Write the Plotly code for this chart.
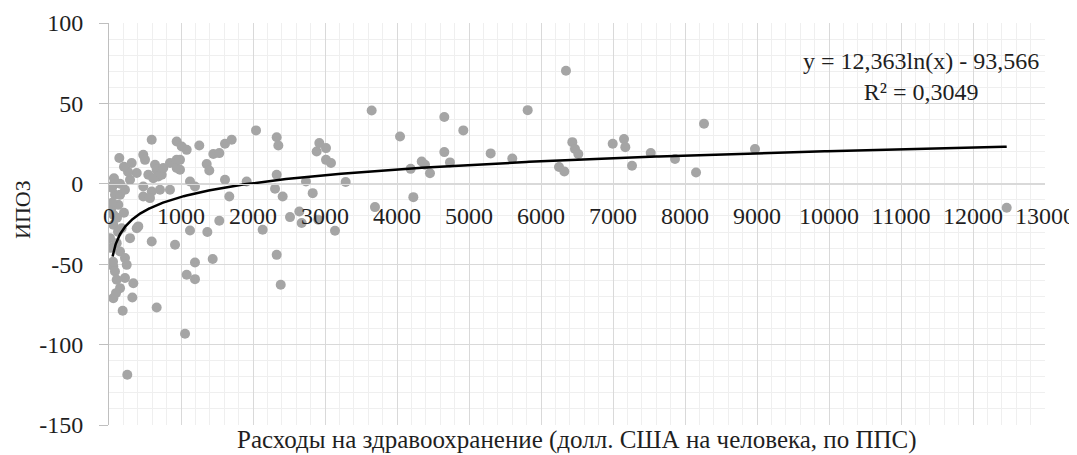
import numpy as np
import plotly.graph_objects as go

# Scatter data: health expenditure (USD per capita, PPP) vs ИПОЗ
spend = [12468, 6347, 5815, 5301, 5601, 6250, 6324, 6435, 6472, 6518, 6996, 7153, 7171, 7264,
         7524, 7861, 8153, 8264, 8972,
         2042, 2329, 2352, 2329, 2306, 2412, 2134, 2329, 2514, 2643, 2676, 2736, 2829, 2884,
         2921, 3014, 3014, 3083, 2907, 3139, 3287, 3648, 3694, 4042, 4190, 4227, 4343, 4389,
         4458, 4657, 4657, 4736, 4921, 2385,
         1079, 1254, 1611, 1704, 1449, 1532, 1357, 1393, 1125, 1194, 1611, 1671, 1912, 1532,
         1125, 1366, 1194, 1440, 1079, 1194, 1056,
         593, 143, 315, 476, 500, 639, 662, 385, 546, 615, 685, 732, 754, 847, 940, 940, 69,
         60, 83, 292, 476, 593, 708, 476, 569, 940, 1010, 986, 986,
         14, 60, 60, 129, 153, 107, 153, 222, 246, 60, 83, 292, 385, 176, 407, 593, 917,
         107, 222, 153, 338, 60, 324, 190, 662, 254, 97, 56,
         28, 42, 111, 208, 28, 125, 42, 153, 222, 264, 208, 847]
ipoz = [-14.9, 70.3, 45.8, 18.9, 15.7, 10.4, 7.6, 25.9, 21.6, 18.5, 24.9, 27.8, 22.8, 11.2,
        19.1, 15.4, 7.0, 37.3, 21.6,
        33.2, 29.0, 23.8, 5.6, -3.1, -7.9, -28.6, -44.2, -20.7, -17.2, -24.4, 1.4, -5.8, 20.1,
        25.3, 22.2, 14.9, 12.9, -22.4, -29.2, 1.1, 45.6, -14.5, 29.4, 9.3, -8.3, 13.9, 11.8,
        6.6, 41.5, 19.7, 13.3, 33.2, -62.8,
        21.1, 23.8, 24.9, 27.4, 18.5, 19.1, 12.3, 8.3, 1.4, -1.7, 2.5, -7.9, 1.4, -23.0,
        -29.0, -30.0, -48.9, -46.8, -56.6, -59.3, -93.3,
        27.4, 16.0, 12.9, 18.0, 14.9, 11.8, 8.7, 6.7, 5.6, 3.5, 4.5, 5.6, 9.8, 12.9, 14.9, 9.8, 3.5,
        -0.6, -6.8, 2.5, -1.7, -4.8, -3.7, -7.9, -8.9, 26.3, 23.2, 14.9, 8.7,
        -33.8, -25.5, -19.3, -13.1, -6.8, -36.9, -42.1, -46.2, -50.4, -51.4, -54.5, -33.8, -27.6,
        -27.6, -26.5, -35.9, -37.9,
        -59.7, -58.6, -64.9, -61.8, -71.1, -70.7, -79.0, -76.9, -118.8, -68.0, -48.5,
        -16.2, -11.8, -21.1, -18.0, -39.8, -29.8, -2.5, 0.0, -3.7, 7.5, 10.6, -3.7]

# Logarithmic trendline coefficients (as shown on chart)
trend_a = 12.363
trend_b = -93.566
trend_label = "y = 12,363ln(x) - 93,566<br>R² = 0,3049"

x_ticks = list(range(0, 13001, 1000))
x_ticktext = [str(v) for v in x_ticks]
y_ticks = [-150, -100, -50, 0, 50, 100]
y_ticktext = ["-150", "-100", "-50", "0", "50", "100"]

x_title = "Расходы на здравоохранение (долл. США на человека, по ППС)"
y_title = "ИПОЗ"

FONT = "Liberation Serif, DejaVu Serif, serif"
TXT = "#1f1f1f"
FS = 24

# page body has an 8px margin: figure is drawn offset by (8, 8)
OFF = 8
W, H = 1077 - OFF, 455 - OFF
L, R, T = 109 - OFF, 32, 23 - OFF
B = H - (425 - OFF)
PW, PH = W - L - R, H - T - B

xs = np.concatenate([np.linspace(50, 1000, 300), np.linspace(1000, max(spend), 300)])
ys = trend_a * np.log(xs) + trend_b

fig = go.Figure()
fig.add_trace(go.Scatter(x=spend, y=ipoz, mode="markers",
                         marker=dict(color="#a5a5a5", size=10, line=dict(width=0)),
                         showlegend=False))
fig.add_trace(go.Scatter(x=xs, y=ys, mode="lines",
                         line=dict(color="black", width=2.5), showlegend=False))

def px(xp):
    return (xp - 109) / PW

def py(yp):
    return (425 - yp) / PH

fig.update_layout(
    width=W, height=H,
    margin=dict(l=L, r=R, t=T, b=B, autoexpand=False),
    paper_bgcolor="white", plot_bgcolor="white",
    font=dict(family=FONT, size=FS, color=TXT),
    xaxis=dict(range=[0, 13000], tickvals=x_ticks, ticktext=x_ticktext,
               showgrid=True, gridcolor="#d9d9d9", gridwidth=1, automargin=False,
               minor=dict(dtick=200, tick0=0, showgrid=True, gridcolor="#efefef", gridwidth=1),
               zeroline=False, showline=True, linecolor="#d9d9d9", linewidth=1,
               anchor="free", position=0.6, ticks="", ticklabelstandoff=10,
               tickfont=dict(family=FONT, size=FS, color=TXT)),
    yaxis=dict(range=[-150, 100], tickvals=y_ticks, ticktext=y_ticktext,
               showgrid=True, gridcolor="#d9d9d9", gridwidth=1, automargin=False,
               minor=dict(dtick=10, tick0=0, showgrid=True, gridcolor="#efefef", gridwidth=1),
               zeroline=False, showline=True, linecolor="#bfbfbf", linewidth=1,
               ticks="outside", ticklen=9, tickcolor="#bfbfbf", ticklabelstandoff=11,
               tickfont=dict(family=FONT, size=FS, color=TXT)),
    annotations=[
        dict(text=trend_label, xref="paper", yref="paper", x=px(921), y=py(76),
             xanchor="center", yanchor="middle", showarrow=False,
             align="center", font=dict(family=FONT, size=FS, color=TXT)),
        dict(text=x_title, xref="paper", yref="paper", x=px(577), y=py(440),
             xanchor="center", yanchor="middle", showarrow=False,
             font=dict(family=FONT, size=25, color=TXT)),
        dict(text=y_title, xref="paper", yref="paper", x=px(22), y=py(210),
             xanchor="center", yanchor="middle", showarrow=False, textangle=-90,
             font=dict(family=FONT, size=22, color=TXT)),
    ],
)

fig.write_html("out.html")
